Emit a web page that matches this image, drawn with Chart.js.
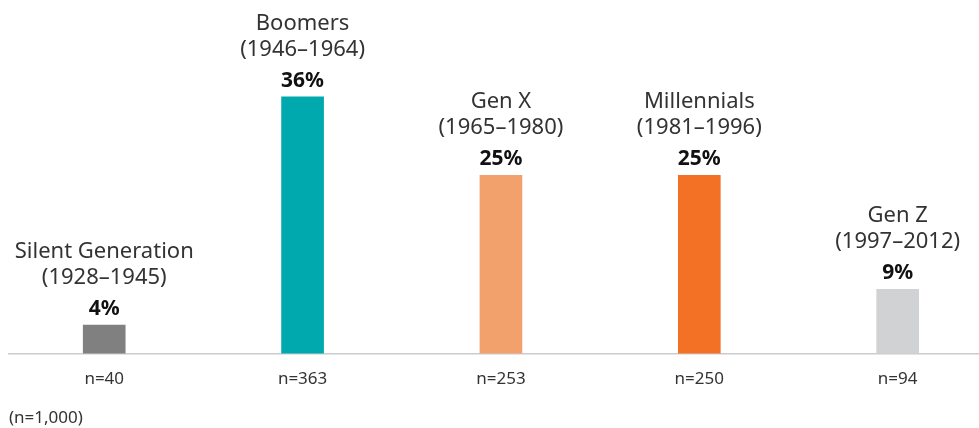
<!DOCTYPE html>
<html>
<head>
<meta charset="utf-8">
<script src="https://cdn.jsdelivr.net/npm/chart.js@4"></script>
<style>
    body { margin: 0; background: #fff; }
    #wrap { position: relative; width: 979px; height: 428px; overflow: hidden; }
    #nota { position: absolute; left: 9px; top: 405px; font: 17px "Noto Sans", sans-serif; color: #333; }
</style>
</head>
<body>
<div id="wrap">
    <canvas id="grafico-generaciones" width="979" height="428"></canvas>
    <div id="nota">(n=1,000)</div>
</div>
<script>
// Datos del gráfico
const generaciones = ["Silent Generation", "Boomers", "Gen X", "Millennials", "Gen Z"];
const periodos = ["(1928–1945)", "(1946–1964)", "(1965–1980)", "(1981–1996)", "(1997–2012)"];
const porcentajes = [4, 36, 25, 25, 9];
const muestras = ["n=40", "n=363", "n=253", "n=250", "n=94"];
const colores = ["#808080", "#00a9ad", "#f2a16c", "#f37124", "#d0d2d3"];

// Etiquetas encima de cada barra
const etiquetasBarras = {
    id: "etiquetasBarras",
    afterDatasetsDraw(chart) {
        const ctx = chart.ctx;
        const meta = chart.getDatasetMeta(0);
        ctx.save();
        ctx.textAlign = "center";
        ctx.textBaseline = "alphabetic";
        meta.data.forEach((barra, i) => {
            const x = barra.x;
            const top = barra.y;
            ctx.fillStyle = "#111";
            ctx.font = "bold 21px 'Noto Sans', sans-serif";
            ctx.fillText(porcentajes[i] + "%", x, top - 10);
            ctx.fillStyle = "#333";
            ctx.font = "22px 'Noto Sans', sans-serif";
            ctx.fillText(periodos[i], x, top - 41);
            ctx.fillText(generaciones[i], x, top - 67);
        });
        ctx.restore();
    }
};

const ctx = document.getElementById("grafico-generaciones").getContext("2d");
new Chart(ctx, {
    type: "bar",
    data: {
        datasets: [{
            data: porcentajes.map((v, i) => ({ x: i, y: v })),
            backgroundColor: colores,
            barThickness: 42
        }]
    },
    options: {
        responsive: false,
        animation: false,
        layout: { padding: { left: 9, right: 0, top: 0, bottom: 32 } },
        plugins: { legend: { display: false }, tooltip: { enabled: false } },
        scales: {
            x: {
                type: "linear",
                offset: false,
                min: -0.48,
                max: 4.41,
                grid: { display: false },
                border: { display: true, color: "#cccccc", width: 1.5 },
                afterBuildTicks: axis => { axis.ticks = muestras.map((m, i) => ({ value: i })); },
                ticks: {
                    padding: 7,
                    color: "#333",
                    font: { family: "'Noto Sans', sans-serif", size: 17 },
                    callback: v => muestras[v]
                }
            },
            y: {
                display: false,
                min: 0,
                max: 49.6
            }
        }
    },
    plugins: [etiquetasBarras]
});
</script>
</body>
</html>
